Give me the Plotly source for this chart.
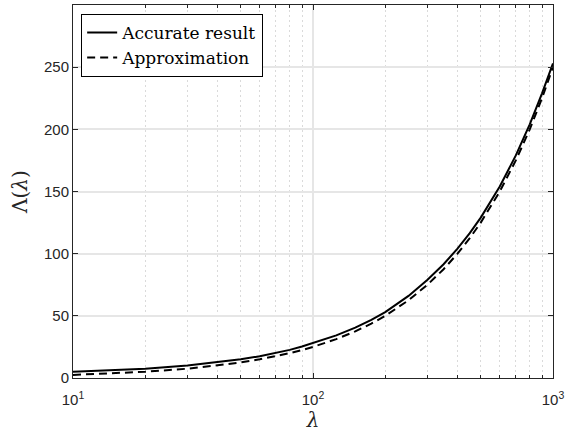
import plotly.graph_objects as go

# Sample points of lambda and the two curves
lam = [10, 15, 20, 30, 40, 50, 60, 70, 80, 90, 100, 125, 150, 175, 200, 250, 300, 350,
       400, 450, 500, 600, 700, 800, 900, 1000]
accurate = [5.0, 6.3, 7.5, 10.0, 12.5, 15.0, 17.5, 20.0, 22.6, 25.3, 28.0, 34.3, 40.5,
            46.8, 53.0, 66.0, 79.0, 91.5, 104.0, 116.5, 129.0, 154.0, 179.0, 204.0,
            229.0, 253.0]
approximation = [2.5, 3.75, 5.0, 7.5, 10.0, 12.5, 15.0, 17.5, 20.0, 22.5, 25.0, 31.25,
                 37.5, 43.75, 50.0, 62.5, 75.0, 87.5, 100.0, 112.5, 125.0, 150.0, 175.0,
                 200.0, 225.0, 250.0]

x_tickvals = [10, 100, 1000]
x_ticktext = ["10<sup>1</sup>", "10<sup>2</sup>", "10<sup>3</sup>"]
x_minorvals = [20, 30, 40, 50, 60, 70, 80, 90, 200, 300, 400, 500, 600, 700, 800, 900]
y_tickvals = [0, 50, 100, 150, 200, 250, 300]

serif = "DejaVu Serif, Liberation Serif, serif"
sans = "Liberation Sans, Arial, sans-serif"

fig = go.Figure()
fig.add_trace(go.Scatter(
    x=lam, y=accurate, mode="lines", name="Accurate result",
    line=dict(color="black", width=2),
))
fig.add_trace(go.Scatter(
    x=lam, y=approximation, mode="lines", name="Approximation",
    line=dict(color="black", width=2, dash="8px,5px"),
))

fig.update_layout(
    width=574, height=432,
    margin=dict(l=73, r=21, t=5, b=54),
    paper_bgcolor="white", plot_bgcolor="white",
    showlegend=True,
    legend=dict(
        x=0.017, y=0.976, xanchor="left", yanchor="top",
        bgcolor="white", bordercolor="black", borderwidth=1,
        font=dict(family=serif, size=17, color="black"),
        tracegroupgap=0, itemwidth=30,
    ),
    xaxis=dict(
        type="log", range=[1, 3],
        tickvals=x_tickvals, ticktext=x_ticktext,
        ticks="inside", ticklen=5, tickcolor="#262626",
        showline=True, linecolor="#262626", linewidth=1, mirror="allticks",
        showgrid=True, gridcolor="#e6e6e6", gridwidth=2,
        minor=dict(tickmode="array", tickvals=x_minorvals, ticks="inside", ticklen=3,
                   tickcolor="#262626", showgrid=True, gridcolor="#dadada",
                   griddash="2px,3px", gridwidth=1),
        tickfont=dict(family=sans, size=15, color="#262626"),
        ticklabelstandoff=8,
        title=dict(text="<i>λ</i>", font=dict(family=serif, size=20, color="#262626"), standoff=4),
        zeroline=False,
    ),
    yaxis=dict(
        range=[0, 300], tickvals=y_tickvals,
        ticks="inside", ticklen=5, tickcolor="#262626",
        showline=True, linecolor="#262626", linewidth=1, mirror="allticks",
        showgrid=True, gridcolor="#e6e6e6", gridwidth=2,
        tickfont=dict(family=sans, size=15, color="#262626"),
        title=dict(text="Λ(<i>λ</i>)", font=dict(family=serif, size=20, color="#262626"), standoff=10),
        zeroline=False,
    ),
)

fig.write_html("out.html")
